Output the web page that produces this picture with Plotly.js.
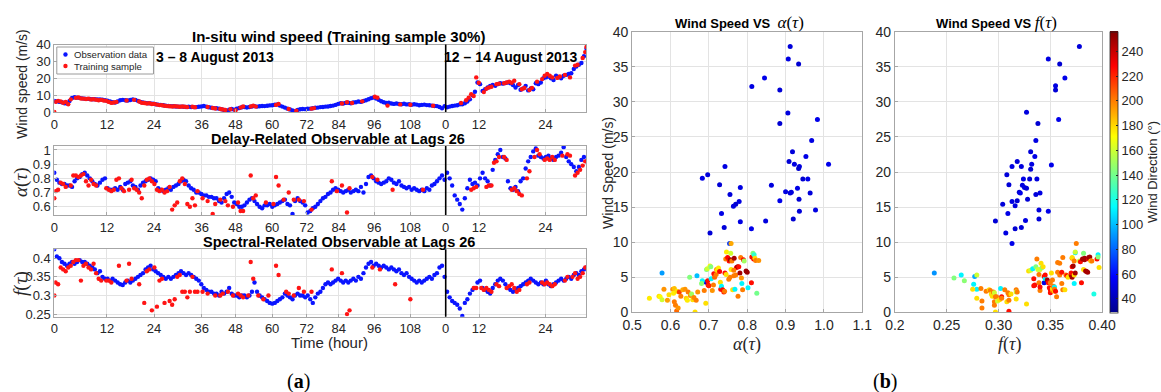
<!DOCTYPE html>
<html>
<head>
<meta charset="utf-8">
<script src="https://cdn.plot.ly/plotly-3.0.1.min.js"></script>
<style>
  html, body { margin: 0; padding: 0; background: #fff; }
  #chart { width: 1161px; height: 392px; }
</style>
</head>
<body>
<div id="chart"></div>
<script>
// ---------- time-series panels (a) ----------
// sample positions of the hour ticks (sampling is irregular in time)
const hourTickPos  = [0, 41.5, 78.7, 116.3, 143.0, 171.9, 199.2, 224.4, 252.5, 280.9, 308.9, 335.2, 387.6];
const hourTickText = ['0','12','24','36','48','60','72','84','96','108','0','12','24'];
const sampleCount = 420;      // last sample index
const obsStep = 2;            // observation series stored every 2 samples

// in-situ wind speed (m/s), observation data
const windObs = [
  6.5,6.3,6.0,5.8,5.2,5.0,6.5,8.3,8.7,8.5,
  8.4,8.1,7.9,7.8,7.7,7.6,7.6,7.5,7.4,7.3,
  7.0,6.7,6.3,5.8,5.6,6.2,7.0,7.2,7.0,6.8,
  7.1,7.5,7.2,6.6,6.0,5.6,5.4,5.2,5.1,4.9,
  4.6,4.4,4.2,4.0,3.8,3.6,3.5,3.4,3.3,3.2,
  3.2,3.1,3.0,3.1,3.0,2.9,2.9,3.1,3.3,3.6,
  3.2,2.8,2.5,2.3,2.2,2.0,1.6,1.2,0.8,1.3,
  1.8,1.4,2.0,2.4,2.8,3.0,2.7,3.0,3.3,3.5,
  3.2,3.4,3.6,3.5,3.7,3.9,4.0,4.3,4.5,3.8,
  3.2,2.6,2.0,1.5,0.9,0.5,1.2,1.6,1.8,1.7,
  1.9,2.0,2.2,2.5,2.6,2.9,3.0,3.2,3.3,3.6,
  3.8,4.2,4.8,5.2,5.0,5.4,5.5,5.2,5.6,5.8,
  6.2,6.0,6.5,7.0,7.6,8.2,8.6,8.0,7.2,6.4,
  5.8,5.3,5.5,5.0,4.8,5.0,4.7,4.6,4.9,4.5,
  4.6,4.3,4.6,4.4,4.0,4.2,4.4,4.1,4.0,3.8,
  3.6,3.5,3.0,2.2,3.5,2.8,3.2,3.6,3.8,4.0,
  4.5,4.6,5.2,6.2,7.5,10.0,12.0,17.5,16.5,12.5,
  13.5,14.5,15.5,16.0,15.5,16.5,17.0,16.8,17.2,17.5,
  17.0,16.0,14.5,16.0,13.2,14.0,15.5,12.8,14.0,13.5,
  17.0,16.5,17.5,20.0,20.5,21.0,20.0,19.0,21.5,20.8,
  20.0,21.5,22.0,22.5,23.0,25.5,27.0,28.0,29.0,33.0,37.5
];
// training sample (30%) for wind speed
const windTrainIdx = [0,1,3,5,7,9,11,13,17,19,21,23,25,27,29,31,33,35,37,39,41,43,45,47,49,57,63,67,69,71,73,75,77,79,81,83,85,87,89,91,93,95,97,99,101,103,105,109,111,121,125,127,131,133,135,139,143,147,149,155,157,159,175,177,185,191,203,205,227,231,235,243,253,255,263,273,281,299,321,325,327,329,331,333,335,339,341,343,345,349,351,355,357,359,361,363,367,369,371,375,377,381,385,387,389,391,393,397,399,403,407,411,413,417,419,420];
const windTrain = [0.0,6.0,6.6,6.2,5.5,6.0,4.6,7.5,8.4,8.6,8.0,7.9,7.7,7.9,7.4,7.6,7.3,7.0,7.2,6.8,6.6,6.0,5.4,5.6,6.0,6.8,7.2,6.2,5.5,5.3,5.0,5.2,4.7,4.8,4.4,4.1,4.0,3.7,3.5,3.4,3.3,3.4,3.3,3.1,3.3,3.1,2.9,3.1,2.8,3.0,2.4,2.1,1.8,1.5,1.2,1.6,1.0,2.6,3.3,3.3,3.8,3.2,4.2,4.8,1.8,0.8,2.0,2.3,5.0,5.8,5.3,6.3,9.0,8.5,3.8,4.5,4.3,3.7,5.3,7.0,8.5,10.5,9.5,20.5,17.3,11.8,13.8,14.5,15.0,16.5,16.8,17.0,17.5,18.0,17.3,18.5,16.5,13.5,14.2,13.0,14.3,18.0,19.5,21.5,22.5,21.5,20.5,20.2,21.0,22.0,20.5,27.5,28.0,32.0,35.5,38.5];

// delay-related observable alpha(tau), observation data
const alphaObs = [
  0.84,0.79,0.77,0.76,0.76,0.75,0.75,0.74,0.78,0.80,
  0.81,0.83,0.84,0.82,0.80,0.78,0.76,0.75,0.77,0.79,
  0.80,0.73,0.72,0.72,0.73,0.72,0.74,0.72,0.76,0.77,
  0.78,0.75,0.74,0.72,0.75,0.77,0.78,0.79,0.80,0.79,
  0.78,0.73,0.72,0.71,0.72,0.73,0.72,0.74,0.75,0.76,
  0.78,0.79,0.78,0.75,0.73,0.72,0.70,0.70,0.69,0.68,
  0.68,0.67,0.67,0.66,0.66,0.64,0.63,0.66,0.69,0.70,
  0.67,0.63,0.62,0.60,0.60,0.61,0.63,0.65,0.66,0.64,
  0.62,0.60,0.59,0.61,0.61,0.62,0.60,0.61,0.62,0.63,
  0.64,0.65,0.62,0.61,0.55,0.64,0.66,0.64,0.63,0.61,
  0.56,0.57,0.59,0.60,0.62,0.64,0.66,0.67,0.69,0.70,
  0.72,0.73,0.72,0.71,0.70,0.71,0.72,0.70,0.71,0.72,
  0.71,0.74,0.70,0.76,0.81,0.82,0.80,0.78,0.77,0.76,
  0.77,0.78,0.80,0.79,0.77,0.76,0.78,0.75,0.74,0.73,
  0.74,0.72,0.73,0.72,0.71,0.72,0.71,0.73,0.72,0.75,
  0.76,0.78,0.80,0.82,0.79,0.84,0.80,0.75,0.68,0.65,
  0.62,0.58,0.66,0.73,0.79,0.76,0.77,0.75,0.80,0.84,
  0.80,0.78,0.75,0.86,0.93,0.97,1.00,0.95,0.94,0.78,
  0.73,0.72,0.74,0.71,0.78,0.80,0.87,0.92,0.95,0.99,
  1.01,0.96,0.95,0.94,0.95,0.96,0.94,0.93,0.95,0.96,
  0.98,1.02,0.95,0.92,0.90,0.88,0.85,0.88,0.93,0.95,0.92
];
const alphaTrainIdx = [0,1,3,5,7,9,13,15,17,19,21,23,25,27,29,31,33,41,43,45,47,49,51,53,55,59,61,63,65,67,69,71,73,75,77,79,81,83,85,87,89,91,93,95,97,99,101,103,105,107,109,111,113,117,121,125,127,131,135,137,141,145,147,149,155,157,159,167,173,175,177,181,185,189,193,197,203,219,223,227,231,233,251,255,267,291,329,331,333,341,343,345,347,349,351,355,357,361,363,365,367,369,373,375,379,381,383,387,389,391,393,395,401,405,407,411,413,415,417,419];
const alphaTrain = [0.66,0.71,0.72,0.77,0.76,0.74,0.75,0.82,0.82,0.81,0.82,0.83,0.78,0.75,0.79,0.76,0.75,0.73,0.72,0.71,0.72,0.79,0.80,0.73,0.71,0.72,0.79,0.73,0.72,0.70,0.66,0.75,0.79,0.80,0.78,0.76,0.72,0.71,0.72,0.70,0.71,0.74,0.58,0.61,0.63,0.78,0.80,0.76,0.62,0.60,0.66,0.61,0.71,0.66,0.64,0.55,0.62,0.65,0.64,0.61,0.60,0.63,0.57,0.57,0.82,0.66,0.68,0.63,0.62,0.81,0.75,0.65,0.70,0.65,0.65,0.64,0.58,0.78,0.71,0.75,0.56,0.73,0.81,0.79,0.72,0.72,0.72,0.73,0.74,0.74,0.75,0.75,0.91,0.92,0.95,0.95,0.93,0.72,0.73,0.71,0.69,0.68,0.80,0.85,0.95,1.00,0.97,0.93,0.94,0.93,0.95,0.93,0.96,0.97,0.96,0.82,0.84,0.86,0.89,0.92];

// spectral-related observable f(tau), observation data
const fObs = [
  0.424,0.405,0.400,0.390,0.385,0.380,0.385,0.390,0.385,0.390,
  0.395,0.390,0.390,0.385,0.380,0.375,0.370,0.360,0.365,0.350,
  0.345,0.345,0.340,0.345,0.340,0.335,0.330,0.328,0.335,0.340,
  0.335,0.340,0.345,0.350,0.355,0.360,0.370,0.375,0.380,0.370,
  0.365,0.360,0.355,0.350,0.345,0.350,0.345,0.350,0.355,0.360,
  0.365,0.360,0.355,0.360,0.355,0.350,0.345,0.340,0.330,0.320,
  0.315,0.310,0.310,0.305,0.305,0.300,0.310,0.305,0.310,0.320,
  0.305,0.300,0.300,0.295,0.300,0.300,0.295,0.300,0.310,0.335,
  0.310,0.300,0.295,0.290,0.285,0.280,0.278,0.280,0.285,0.290,
  0.295,0.305,0.300,0.295,0.290,0.300,0.305,0.300,0.300,0.295,
  0.300,0.290,0.280,0.295,0.305,0.310,0.320,0.330,0.335,0.330,
  0.335,0.340,0.345,0.340,0.335,0.340,0.335,0.340,0.345,0.340,
  0.350,0.345,0.360,0.375,0.385,0.390,0.380,0.385,0.380,0.375,
  0.380,0.375,0.370,0.375,0.370,0.365,0.370,0.360,0.355,0.360,
  0.350,0.345,0.340,0.335,0.340,0.335,0.340,0.345,0.350,0.345,
  0.355,0.360,0.375,0.380,0.350,0.310,0.295,0.285,0.280,0.275,
  0.265,0.245,0.280,0.290,0.305,0.315,0.320,0.335,0.340,0.320,
  0.315,0.310,0.305,0.320,0.330,0.340,0.345,0.340,0.330,0.320,
  0.315,0.310,0.315,0.320,0.325,0.330,0.335,0.340,0.345,0.340,
  0.335,0.330,0.335,0.330,0.340,0.330,0.325,0.330,0.335,0.340,
  0.345,0.340,0.345,0.350,0.345,0.355,0.360,0.355,0.365,0.370,0.375
];
const fTrainIdx = [0,1,3,5,7,9,11,13,15,17,19,21,23,25,27,29,31,33,35,37,41,43,45,51,57,59,61,67,71,73,75,77,79,81,83,85,87,91,93,95,97,99,101,103,105,107,109,111,113,117,121,127,131,133,137,141,145,147,149,153,155,157,161,165,169,175,177,183,185,189,193,197,203,219,227,231,233,251,257,269,281,331,333,337,339,341,343,345,349,351,357,359,361,363,365,367,373,375,385,387,389,391,393,395,403,405,409,411,413,415,417,419];
const fTrain = [0.300,0.335,0.330,0.375,0.370,0.365,0.375,0.380,0.390,0.395,0.395,0.340,0.380,0.385,0.375,0.370,0.385,0.360,0.345,0.340,0.340,0.340,0.335,0.380,0.340,0.385,0.345,0.330,0.280,0.365,0.370,0.260,0.375,0.270,0.340,0.345,0.280,0.285,0.275,0.290,0.350,0.355,0.310,0.310,0.295,0.310,0.350,0.310,0.310,0.310,0.305,0.300,0.300,0.305,0.310,0.300,0.305,0.300,0.295,0.300,0.390,0.345,0.300,0.290,0.300,0.380,0.355,0.310,0.305,0.300,0.320,0.310,0.310,0.370,0.360,0.250,0.260,0.375,0.370,0.330,0.290,0.320,0.320,0.320,0.315,0.320,0.315,0.310,0.330,0.325,0.320,0.325,0.330,0.320,0.310,0.315,0.330,0.335,0.335,0.330,0.335,0.330,0.325,0.330,0.340,0.350,0.350,0.360,0.345,0.350,0.360,0.375];

// ---------- scatter panels (b) ----------
// Wind speed vs alpha(tau), colour = wind direction (deg)
const alphaVals = [0.912,0.907,0.934,0.845,0.812,0.885,0.906,0.983,0.885,0.968,0.918,0.953,0.909,0.923,0.936,0.934,1.012,0.742,0.697,0.683,0.728,0.863,0.782,0.755,0.945,0.958,0.900,0.912,0.915,0.931,0.964,0.779,0.770,0.764,0.885,0.935,0.978,0.936,0.733,0.848,0.920,0.782,0.740,0.811,0.703,0.754,0.693,0.578,
  0.545,0.570,0.573,0.578,0.583,0.592,0.596,0.606,0.610,0.608,0.610,0.613,0.616,0.620,0.617,0.623,0.627,0.632,0.638,0.641,0.644,0.646,0.650,0.652,0.655,0.658,0.661,0.664,0.667,0.671,0.669,0.683,0.681,0.688,0.692,0.694,0.696,0.697,0.698,0.700,0.703,0.705,0.706,0.709,0.712,0.713,0.715,0.719,0.720,0.722,0.725,0.728,0.730,0.731,0.733,0.736,0.739,0.741,0.742,0.744,0.746,0.749,0.752,0.753,0.755,0.756,0.757,0.758,0.758,0.760,0.762,0.765,0.766,0.768,0.770,0.772,0.775,0.776,0.778,0.781,0.783,0.785,0.786,0.788,0.790,0.792,0.797,0.800,0.802,0.811,0.812,0.815,0.817,0.818,0.820,0.822,0.825,0.830,0.765,0.745];
const windA = [37.9,36.1,35.4,33.4,32.2,31.7,28.4,27.5,26.9,24.5,22.9,22.2,21.5,21.1,20.8,20.5,21.1,20.8,19.6,19.1,18.2,18.1,17.8,16.8,19.0,19.0,17.2,17.0,17.1,17.7,17.0,15.8,15.4,15.1,15.9,16.1,14.6,14.4,14.1,13.0,13.3,12.9,12.1,11.9,11.3,9.8,4.3,5.6,
  2.0,2.3,2.2,1.8,3.3,1.7,2.5,3.3,3.4,2.7,1.5,1.0,0.2,0.6,3.0,2.9,2.3,3.2,3.3,2.0,1.7,2.9,5.0,2.4,2.6,1.8,2.1,0.05,1.7,2.9,5.2,4.5,4.1,3.1,1.3,6.1,6.2,4.5,3.9,3.8,6.6,6.5,4.8,3.1,3.9,5.5,5.0,5.4,6.1,6.0,6.3,5.8,4.3,3.3,3.7,3.2,2.9,3.0,5.6,7.6,8.6,7.8,4.7,7.3,5.0,7.5,8.4,9.8,6.1,7.3,3.2,5.2,7.7,3.3,5.3,6.4,6.5,2.3,6.5,5.6,7.8,4.9,4.1,3.2,7.5,7.3,5.9,5.7,3.5,4.2,7.9,8.4,7.6,8.2,7.7,7.4,2.7,7.4,6.0,5.4];
const dirA = [48,50,46,52,50,47,49,52,46,50,48,51,47,50,49,46,52,50,48,51,47,49,50,48,46,52,50,47,49,51,48,50,46,49,52,47,50,48,51,49,46,50,48,52,47,70,50,92,
  175,178,172,160,195,192,178,195,185,175,200,200,205,195,178,215,200,190,195,180,175,200,143,195,150,178,198,178,200,195,100,112,145,200,178,143,160,225,225,220,172,143,112,195,200,225,205,200,195,178,175,228,178,225,112,225,222,200,225,200,175,228,200,225,200,248,160,190,175,200,178,200,248,112,200,228,248,200,225,248,200,195,112,200,225,150,250,250,112,225,225,143,228,125,178,200,140,195,200,178];

// Wind speed vs f(tau)
const fVals = [0.378,0.348,0.359,0.364,0.355,0.355,0.327,0.338,0.358,0.336,0.331,0.335,0.351,0.318,0.313,0.322,0.332,0.331,0.308,0.324,0.330,0.337,0.310,0.323,0.325,0.327,0.320,0.321,0.336,0.340,0.328,0.304,0.313,0.318,0.316,0.309,0.339,0.348,0.339,0.326,0.297,0.316,0.307,0.322,0.313,0.344,0.238,
  0.257,0.264,0.267,0.276,0.277,0.279,0.279,0.279,0.275,0.283,0.284,0.284,0.288,0.291,0.292,0.293,0.294,0.295,0.296,0.296,0.296,0.297,0.297,0.298,0.299,0.301,0.302,0.303,0.303,0.306,0.308,0.309,0.310,0.310,0.310,0.312,0.317,0.317,0.317,0.318,0.327,0.329,0.331,0.333,0.334,0.334,0.335,0.336,0.337,0.338,0.339,0.339,0.340,0.340,0.340,0.341,0.342,0.343,0.344,0.345,0.345,0.347,0.348,0.349,0.350,0.350,0.350,0.351,0.352,0.352,0.352,0.353,0.354,0.354,0.354,0.355,0.356,0.357,0.357,0.359,0.359,0.361,0.361,0.362,0.362,0.364,0.365,0.366,0.367,0.368,0.370,0.370,0.371,0.371,0.371,0.371,0.372,0.373,0.373,0.373,0.374,0.374,0.374,0.375,0.378,0.379,0.380,0.381,0.382,0.382,0.383,0.383,0.384,0.385,0.386,0.387,0.387,0.388,0.389,0.390,0.392,0.395,0.396,0.396,0.397];
const windF = [37.9,36.1,35.4,33.4,32.3,31.7,28.5,26.9,27.5,24.5,22.9,22.2,21.0,21.5,20.8,20.8,21.1,20.4,19.6,19.0,19.0,19.0,18.2,18.1,17.8,17.7,17.1,17.0,16.8,17.0,16.1,15.4,15.8,15.9,15.2,14.1,14.6,14.4,13.3,13.1,13.0,11.9,11.3,12.1,9.8,4.2,5.6,
  4.9,5.3,4.5,4.0,5.1,5.3,3.3,2.0,3.3,3.4,1.6,0.6,3.0,3.2,3.1,2.6,2.3,2.9,2.8,1.5,1.0,0.05,2.2,2.2,1.6,1.8,3.4,2.2,2.0,3.2,1.5,2.8,2.5,1.7,0.15,2.6,3.2,2.9,1.9,2.9,1.2,5.9,6.0,6.2,4.8,3.8,3.9,6.5,7.6,6.1,5.4,4.2,3.1,3.6,6.1,7.0,6.4,6.5,5.1,4.8,5.3,4.6,4.2,3.5,3.2,4.2,2.8,5.6,3.1,3.4,4.6,3.7,3.6,3.0,3.3,3.0,2.2,5.7,7.1,7.0,5.3,4.1,5.7,3.2,7.8,3.2,5.3,5.2,5.0,5.1,5.3,5.6,5.0,7.7,7.8,6.5,6.6,5.3,4.1,7.3,5.6,8.5,8.6,9.8,7.3,7.2,4.2,7.6,8.4,6.1,7.5,7.7,5.9,5.8,5.7,7.6,7.8,7.9,7.3,7.3,2.6,7.6,8.2,7.9,6.4];
const dirF = [48,50,46,52,50,47,49,46,52,50,48,51,52,47,50,49,50,46,48,51,47,49,47,49,50,48,46,52,48,50,47,48,50,46,49,51,49,52,48,50,47,46,50,48,52,50,90,
  143,112,145,112,95,160,112,178,178,200,200,200,200,178,200,178,178,200,160,200,200,178,200,200,160,178,112,225,200,200,178,200,200,200,225,178,200,160,178,200,178,178,160,112,225,225,225,143,200,160,200,200,200,225,160,178,143,178,225,112,225,248,225,225,225,200,225,178,200,178,200,200,112,178,200,225,200,200,200,200,200,200,225,200,200,178,200,225,178,178,248,225,248,200,178,225,248,178,112,200,248,112,160,200,160,225,225,248,143,178,248,248,248,248,248,225,248,248,178,200,120,225,112,143,178];

// ---------- drawing ----------
const W = 1161, H = 392;
const fx = p => p / W;            // pixel column -> paper x
const fy = p => 1 - p / H;        // pixel row -> paper y

const obsIdx = windObs.map((_, i) => i * obsStep);

const BLUE = '#0a14ff', RED = '#ff1414';
const LINE = '#a6a6a6', GRID = '#e3e3e3', TXT = '#262626';
const SANS = 'Liberation Sans, Arial, sans-serif';
const SERIF = 'Liberation Serif, DejaVu Serif, serif';

function obsTrace(y, ax) {
  return { type: 'scatter', mode: 'markers', x: obsIdx, y: y, xaxis: 'x' + ax, yaxis: 'y' + ax,
    showlegend: false, marker: { color: BLUE, size: 4.4 }, hoverinfo: 'skip' };
}
function trainTrace(x, y, ax) {
  return { type: 'scatter', mode: 'markers', x: x, y: y, xaxis: 'x' + ax, yaxis: 'y' + ax,
    showlegend: false, marker: { color: RED, size: 4.4 }, hoverinfo: 'skip' };
}

const data = [
  obsTrace(windObs, ''),   trainTrace(windTrainIdx, windTrain, ''),
  obsTrace(alphaObs, '2'), trainTrace(alphaTrainIdx, alphaTrain, '2'),
  obsTrace(fObs, '3'),     trainTrace(fTrainIdx, fTrain, '3'),
  { type: 'scatter', mode: 'markers', x: alphaVals, y: windA, xaxis: 'x4', yaxis: 'y4', showlegend: false,
    marker: { color: dirA, coloraxis: 'coloraxis', size: 5 }, hoverinfo: 'skip' },
  { type: 'scatter', mode: 'markers', x: fVals, y: windF, xaxis: 'x5', yaxis: 'y5', showlegend: false,
    marker: { color: dirF, coloraxis: 'coloraxis', size: 5 }, hoverinfo: 'skip' }
];

const axBase = { showgrid: true, gridcolor: GRID, gridwidth: 1, zeroline: false,
  showline: true, mirror: true, linecolor: LINE, linewidth: 1,
  ticks: 'inside', ticklen: 3, tickcolor: LINE, tickfont: { family: SANS, size: 13, color: TXT } };

function timeX(dom, anchor) {
  return Object.assign({}, axBase, { domain: dom, anchor: anchor, range: [0, sampleCount],
    tickmode: 'array', tickvals: hourTickPos, ticktext: hourTickText });
}
function leftY(dom, anchor, range, vals, text) {
  return Object.assign({}, axBase, { domain: dom, anchor: anchor, range: range,
    tickmode: 'array', tickvals: vals, ticktext: text });
}

const lx = [fx(54.5), fx(588.5)];
const rx1 = [fx(634.3), fx(865.3)];
const rx2 = [fx(898), fx(1106)];
const ry = [fy(312.3), fy(31.7)];

const layout = {
  width: W, height: H,
  margin: { l: 0, r: 0, t: 0, b: 0 },
  paper_bgcolor: '#fff', plot_bgcolor: '#fff',
  font: { family: SANS, color: TXT },
  showlegend: false,
  xaxis:  timeX(lx, 'y'),
  yaxis:  leftY([fy(112), fy(44.5)], 'x', [0, 40], [0,10,20,30,40], ['0','10','20','30','40']),
  xaxis2: timeX(lx, 'y2'),
  yaxis2: leftY([fy(215), fy(146)], 'x2', [0.542, 1.028], [0.6,0.7,0.8,0.9,1], ['0.6','0.7','0.8','0.9','1']),
  xaxis3: timeX(lx, 'y3'),
  yaxis3: leftY([fy(316.7), fy(249.3)], 'x3', [0.243, 0.424], [0.25,0.3,0.35,0.4], ['0.25','0.3','0.35','0.4']),
  xaxis4: Object.assign({}, axBase, { domain: rx1, anchor: 'y4', range: [0.5, 1.1],
    tickmode: 'array', tickvals: [0.5,0.6,0.7,0.8,0.9,1.0,1.1], ticktext: ['0.5','0.6','0.7','0.8','0.9','1.0','1.1'],
    tickfont: { family: SANS, size: 14, color: TXT } }),
  yaxis4: Object.assign({}, axBase, { domain: ry, anchor: 'x4', range: [0, 40], dtick: 5,
    tickfont: { family: SANS, size: 14, color: TXT } }),
  xaxis5: Object.assign({}, axBase, { domain: rx2, anchor: 'y5', range: [0.2, 0.4],
    tickmode: 'array', tickvals: [0.2,0.25,0.3,0.35,0.4], ticktext: ['0.2','0.25','0.30','0.35','0.40'],
    tickfont: { family: SANS, size: 14, color: TXT } }),
  yaxis5: Object.assign({}, axBase, { domain: ry, anchor: 'x5', range: [0, 40], dtick: 5,
    tickfont: { family: SANS, size: 14, color: TXT } }),
  coloraxis: {
    cmin: 29, cmax: 256,
    colorscale: [[0, 'rgb(0,0,143)'], [0.125, 'rgb(0,0,255)'], [0.375, 'rgb(0,255,255)'],
                 [0.625, 'rgb(255,255,0)'], [0.875, 'rgb(255,0,0)'], [1, 'rgb(128,0,0)']],
    colorbar: {
      x: fx(1114), xanchor: 'left', xpad: 0, thickness: 8,
      y: fy(172), yanchor: 'middle', ypad: 0, len: (312.3 - 31.7) / H, lenmode: 'fraction',
      outlinecolor: '#262626', outlinewidth: 0.8,
      tickmode: 'array', tickvals: [40,60,80,100,120,140,160,180,200,220,240],
      ticks: 'inside', ticklen: 2, tickcolor: '#262626',
      tickfont: { family: SANS, size: 13, color: TXT },
      title: { text: 'Wind Direction (°)', side: 'right', font: { family: SANS, size: 13, color: TXT } }
    }
  },
  shapes: ['', '2', '3'].map(a => ({
    type: 'line', xref: 'x' + a, yref: 'y' + a + ' domain',
    x0: hourTickPos[10], x1: hourTickPos[10], y0: 0, y1: 1,
    line: { color: '#000', width: 1.6 }
  })),
  annotations: []
};

// legend box of the wind-speed panel
layout.shapes.push({ type: 'rect', xref: 'paper', yref: 'paper', layer: 'above',
  x0: fx(57), x1: fx(154), y0: fy(74), y1: fy(47),
  fillcolor: '#fff', line: { color: '#9a9a9a', width: 1 } });
[[54.5, BLUE], [66, RED]].forEach(([row, col]) => {
  layout.shapes.push({ type: 'circle', xref: 'paper', yref: 'paper', layer: 'above',
    x0: fx(63.5), x1: fx(67.9), y0: fy(row + 2.2), y1: fy(row - 2.2),
    fillcolor: col, line: { width: 0 } });
});

function note(text, x, y, opts) {
  layout.annotations.push(Object.assign({ text: text, xref: 'paper', yref: 'paper',
    x: fx(x), y: fy(y), showarrow: false, xanchor: 'center', yanchor: 'middle',
    font: { family: SANS, size: 13, color: '#000' } }, opts || {}));
}

const math = (sym, size) => '<span style="font-family:' + SERIF + ';font-size:' + size + 'px"><i>' + sym +
  '</i>(<i>τ</i>)</span>';

note('Observation data', 72, 54.5, { xanchor: 'left', font: { family: SANS, size: 9.6, color: TXT } });
note('Training sample', 72, 66, { xanchor: 'left', font: { family: SANS, size: 9.6, color: TXT } });

// panel titles (a)
note('<b>In-situ wind speed (Training sample 30%)</b>', 340, 36, { font: { family: SANS, size: 15, color: '#000' } });
note('<b>Delay-Related Observable at Lags 26</b>', 339, 138.5, { font: { family: SANS, size: 14.5, color: '#000' } });
note('<b>Spectral-Related Observable at Lags 26</b>', 340, 241.5, { font: { family: SANS, size: 14.5, color: '#000' } });
note('<b>3 – 8 August 2013</b>', 216, 57, { font: { family: SANS, size: 14, color: '#000' } });
note('<b>12 – 14 August 2013</b>', 513, 57, { font: { family: SANS, size: 14, color: '#000' } });
note('Wind speed (m/s)', 22, 84, { textangle: -90, font: { family: SANS, size: 14, color: TXT } });
note(math('α', 19), 21, 182, { textangle: -90, font: { family: SERIF, size: 19, color: TXT } });
note(math('f', 19), 21, 283, { textangle: -90, font: { family: SERIF, size: 19, color: TXT } });
note('Time (hour)', 331, 342, { font: { family: SANS, size: 15, color: TXT } });

// panel titles (b)
note('<b>Wind Speed VS</b>  ' + math('α', 17), 742, 22, { font: { family: SANS, size: 13, color: '#000' } });
note('<b>Wind Speed VS</b> ' + math('f', 17), 1000, 22, { font: { family: SANS, size: 13, color: '#000' } });
note('Wind Speed (m/s)', 610, 173, { textangle: -90, font: { family: SANS, size: 14, color: TXT } });
note(math('α', 18), 750, 344, { font: { family: SERIF, size: 18, color: TXT } });
note(math('f', 18), 1013, 344, { font: { family: SERIF, size: 18, color: TXT } });

// sub-figure labels
note('(<b>a</b>)', 300, 381, { font: { family: SERIF, size: 20, color: '#000' } });
note('(<b>b</b>)', 888, 381, { font: { family: SERIF, size: 20, color: '#000' } });

Plotly.newPlot('chart', data, layout, { staticPlot: true, displayModeBar: false });
</script>
</body>
</html>
